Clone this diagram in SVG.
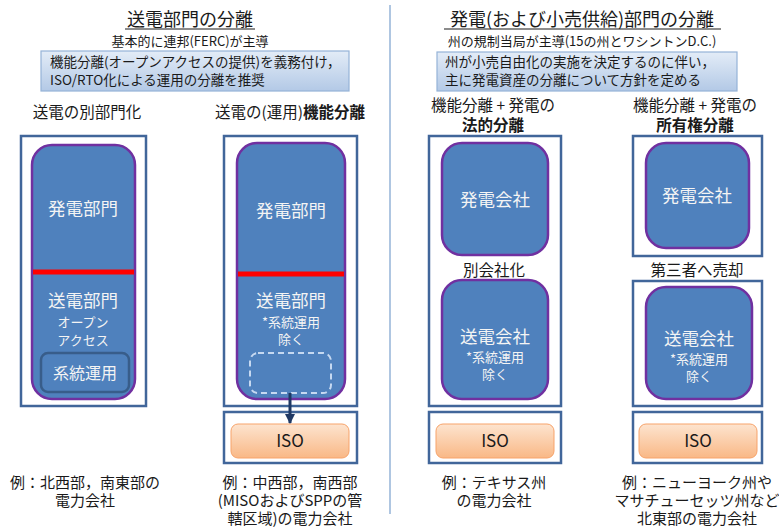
<svg xmlns="http://www.w3.org/2000/svg" width="779" height="528" viewBox="0 0 779 528">
<defs>
<linearGradient id="gBox" x1="0" y1="0" x2="0" y2="1">
<stop offset="0" stop-color="#e3ecf7"/><stop offset="1" stop-color="#b3c9e6"/>
</linearGradient>
<linearGradient id="gIso" x1="0" y1="0" x2="0" y2="1">
<stop offset="0" stop-color="#fde4cf"/><stop offset="1" stop-color="#f9b886"/>
</linearGradient>
<marker id="arr" viewBox="0 0 10 10" refX="9" refY="5" markerWidth="3.5" markerHeight="3.5" orient="auto">
<path d="M0,0 L10,5 L0,10 z" fill="#1f3864"/>
</marker>
</defs>
<style>
text{font-family:"Noto Sans CJK JP","Noto Sans",sans-serif;fill:#1a1a1a;text-anchor:middle}
.title{font-size:18px}
.sub{font-size:13px}
.info{font-size:13.5px;text-anchor:start}
.head{font-size:15.5px}
.bold{font-weight:bold}
.outer{fill:#fff;stroke:#41669a;stroke-width:2.5}
.node{fill:#4f81bd;stroke:#7030a0;stroke-width:2.5}
.nl{font-size:17.5px;fill:#f4f4f4}
.ns{font-size:13px;fill:#f4f4f4}
.sep{stroke:#ff0000;stroke-width:5}
.ib{fill:url(#gBox);stroke:#95b3d7;stroke-width:1.2}
.iso{fill:url(#gIso);stroke:#f7a36a;stroke-width:1}
.isot{font-size:17px}
.ex{font-size:15px}
</style>
<rect width="779" height="528" fill="#fff"/>
<line x1="390" y1="5" x2="390" y2="514" stroke="#95b3d7" stroke-width="1.5"/>

<g id="left-header">
<text class="title" x="190" y="26">送電部門の分離</text>
<line x1="125" y1="29" x2="255" y2="29" stroke="#1a1a1a" stroke-width="1.2"/>
<text class="sub" x="190" y="46">基本的に連邦(FERC)が主導</text>
<rect class="ib" x="41" y="51" width="308" height="40"/>
<text class="info" x="50" y="67">機能分離(オープンアクセスの提供)を義務付け，<tspan x="50" y="85">ISO/RTO化による運用の分離を推奨</tspan></text>
<text class="head" x="87" y="118">送電の別部門化</text>
<text class="head" x="290" y="118">送電の(運用)<tspan class="bold">機能分離</tspan></text>
</g>

<g id="right-header">
<text class="title" x="582" y="26">発電(および小売供給)部門の分離</text>
<line x1="444" y1="29" x2="721" y2="29" stroke="#1a1a1a" stroke-width="1.2"/>
<text class="sub" x="582" y="46">州の規制当局が主導(15の州とワシントンD.C.)</text>
<rect class="ib" x="437" y="52" width="300" height="39"/>
<text class="info" x="445" y="67">州が小売自由化の実施を決定するのに伴い，<tspan x="445" y="85">主に発電資産の分離について方針を定める</tspan></text>
<text class="head" x="493" y="111">機能分離 + 発電の<tspan class="bold" x="493" y="131">法的分離</tspan></text>
<text class="head" x="695" y="111">機能分離 + 発電の<tspan class="bold" x="695" y="131">所有権分離</tspan></text>
</g>

<g id="col1">
<rect class="outer" x="21" y="136" width="125" height="270"/>
<rect class="node" x="32" y="145" width="103" height="254" rx="20"/>
<line class="sep" x1="33" y1="272" x2="134" y2="272"/>
<text class="nl" x="83" y="215">発電部門</text>
<text class="nl" x="83" y="307">送電部門<tspan class="ns" x="83" y="327">オープン</tspan><tspan class="ns" x="83" y="345">アクセス</tspan></text>
<rect x="41" y="353" width="88" height="39" rx="7" fill="#4f81bd" stroke="#385d8a" stroke-width="2.5"/>
<text class="nl" x="85" y="379" style="font-size:16px">系統運用</text>
<text class="ex" x="85" y="488">例：北西部，南東部の<tspan x="85" y="506">電力会社</tspan></text>
</g>

<g id="col2">
<rect class="outer" x="224" y="136" width="133" height="270"/>
<rect class="node" x="237" y="143" width="108" height="256" rx="20"/>
<line class="sep" x1="238" y1="274" x2="344" y2="274"/>
<text class="nl" x="291" y="217">発電部門</text>
<text class="nl" x="291" y="307">送電部門<tspan class="ns" x="291" y="327">*系統運用</tspan><tspan class="ns" x="291" y="344">除く</tspan></text>
<rect x="250" y="353" width="81" height="40" rx="8" fill="none" stroke="#c6d9f1" stroke-width="2" stroke-dasharray="6,4"/>
</g>

<g id="col3">
<rect class="outer" x="429" y="136" width="132" height="270"/>
<rect class="node" x="442" y="143" width="106" height="112" rx="20"/>
<text class="nl" x="495" y="206">発電会社</text>
<text class="head" x="494" y="276">別会社化</text>
<rect class="node" x="442" y="280" width="106" height="119" rx="20"/>
<text class="nl" x="495" y="343">送電会社<tspan class="ns" x="495" y="362">*系統運用</tspan><tspan class="ns" x="495" y="379">除く</tspan></text>
</g>

<g id="col4">
<rect class="outer" x="633" y="136" width="129" height="120"/>
<rect class="node" x="646" y="143" width="103" height="105" rx="20"/>
<text class="nl" x="697" y="202">発電会社</text>
<text class="head" x="697" y="276">第三者へ売却</text>
<rect class="outer" x="633" y="281" width="129" height="125"/>
<rect class="node" x="646" y="287" width="106" height="112" rx="20"/>
<text class="nl" x="699" y="345">送電会社<tspan class="ns" x="699" y="364">*系統運用</tspan><tspan class="ns" x="699" y="381">除く</tspan></text>
</g>

<g id="iso2">
<rect class="outer" x="224" y="412" width="133" height="51"/>
<rect class="iso" x="231" y="424" width="118" height="34" rx="7"/>
<text class="isot" x="290" y="447">ISO</text>
<text class="ex" x="290" y="488">例：中西部，南西部<tspan x="290" y="506">(MISOおよびSPPの管</tspan><tspan x="290" y="524">轄区域)の電力会社</tspan></text>
</g>

<g id="iso3">
<rect class="outer" x="429" y="412" width="132" height="51"/>
<rect class="iso" x="436" y="424" width="118" height="34" rx="7"/>
<text class="isot" x="495" y="447">ISO</text>
<text class="ex" x="494" y="488">例：テキサス州<tspan x="494" y="506">の電力会社</tspan></text>
</g>

<g id="iso4">
<rect class="outer" x="633" y="412" width="129" height="51"/>
<rect class="iso" x="639" y="424" width="118" height="34" rx="7"/>
<text class="isot" x="698" y="447">ISO</text>
<text class="ex" x="697" y="488">例：ニューヨーク州や<tspan x="697" y="506">マサチューセッツ州など</tspan><tspan x="697" y="524">北東部の電力会社</tspan></text>
</g>

<g id="connectors">
<line x1="290" y1="393" x2="290" y2="423" stroke="#1f3864" stroke-width="3" marker-end="url(#arr)"/>
</g>
</svg>
